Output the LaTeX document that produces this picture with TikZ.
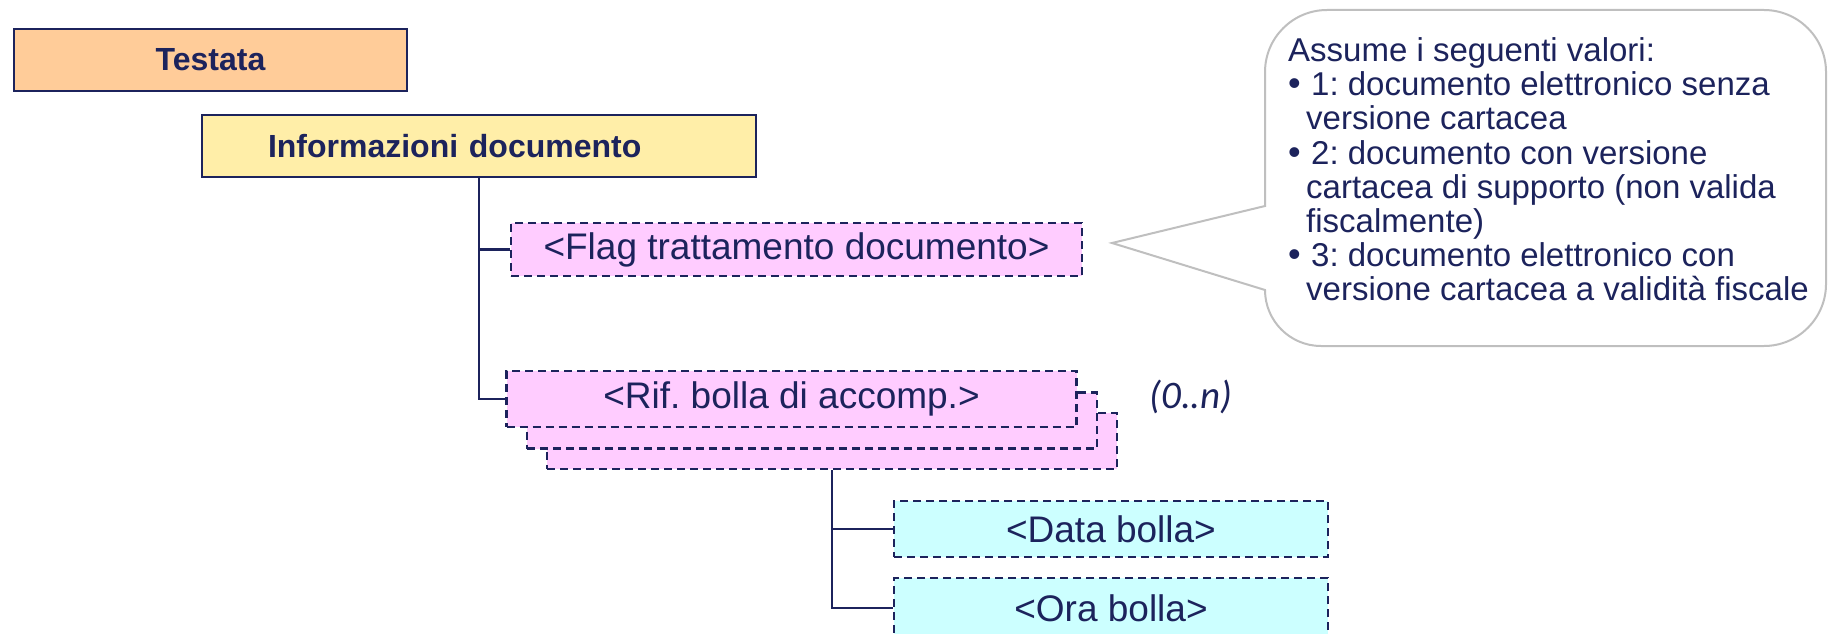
\documentclass[tikz,border=0pt]{standalone}
\usepackage{fontspec}
\setmainfont{Liberation Sans}
\newfontfamily\boxfont{Liberation Sans}
\newfontfamily\callfont{Liberation Sans}
\newfontfamily\multfont{Carlito}
\frenchspacing
\definecolor{navy}{RGB}{28,35,92}
\definecolor{orangeF}{RGB}{255,204,153}
\definecolor{yellowF}{RGB}{255,238,168}
\definecolor{pinkF}{RGB}{255,204,255}
\definecolor{cyanF}{RGB}{204,255,255}
\definecolor{callgray}{RGB}{191,191,191}
\begin{document}
\begin{tikzpicture}[x=1pt,y=-1pt,
  solidbox/.style={draw=navy, line width=2pt, inner sep=0pt, text=navy,
    font=\bfseries\fontsize{32}{38}\selectfont},
  dbox/.style={draw=navy, line width=2.2pt, dash pattern=on 8pt off 5pt, inner sep=0pt,
    text=navy, font=\boxfont\fontsize{37}{42}\selectfont},
  pinkbox/.style={dbox, fill=pinkF, minimum width=570pt, minimum height=56pt},
  cyanbox/.style={dbox, fill=cyanF, minimum width=434pt},
  conn/.style={draw=navy, line width=2.2pt},
  calltext/.style={text=navy, font=\callfont\fontsize{33}{36}\selectfont, inner sep=0pt, anchor=base west},
  bul/.style={text=navy, font=\fontsize{36}{40}\selectfont, inner sep=0pt, anchor=base west}
]
\useasboundingbox (0,0) rectangle (1830,634);

% title boxes
\node[solidbox, fill=orangeF, minimum width=393pt, minimum height=62pt] (testata) at (210.5,60) {Testata};
\node[solidbox, fill=yellowF, minimum width=554pt, minimum height=62pt,
      inner xsep=66pt, text width=422pt, align=left] (info) at (479,146) {Informazioni documento};

% flag
\node[dbox, fill=pinkF, minimum width=571pt, minimum height=53pt] (flag) at (796.5,249.5) {<Flag trattamento documento>};

% stacked rif boxes
\node[pinkbox] (rif3) at (832,441) {};
\node[pinkbox] (rif2) at (812,420.5) {};
\node[pinkbox] (rif1) at (791.5,399) {<Rif. bolla di accomp.>};

\node[text=navy, inner sep=0pt, font=\multfont\itshape\fontsize{39}{44}\selectfont] (mult) at (1191,397) {(0..n)};

% children
\node[cyanbox, minimum height=56pt] (data) at (1111,529) {<Data bolla>};
\node[cyanbox, minimum height=60pt] (ora) at (1111,608) {<Ora bolla>};

% connectors
\draw[conn] (info.south) |- (flag.west);
\draw[conn] (info.south) |- (rif1.west);
\draw[conn] (rif3.south) |- (data.west);
\draw[conn] (rif3.south) |- (ora.west);

% callout
\coordinate (tip) at (1112,243);
\draw[draw=callgray, line width=2pt, fill=white]
  (1265,206) -- (1265,72) .. controls (1265,37.8) and (1292.8,10) .. (1327,10)
  -- (1764,10) .. controls (1798.2,10) and (1826,37.8) .. (1826,72)
  -- (1826,284) .. controls (1826,318.2) and (1798.2,346) .. (1764,346)
  -- (1321,346) .. controls (1290.1,346) and (1265,320.9) .. (1265,290)
  -- (tip) -- cycle;

\node[calltext] (c1) at (1288,61) {Assume i seguenti valori:};
\node[bul] (b1) at (1288,95) {•};
\node[calltext] (c2) at (1311,95) {1: documento elettronico senza};
\node[calltext] (c3) at (1306,129) {versione cartacea};
\node[bul] (b2) at (1288,164) {•};
\node[calltext] (c4) at (1311,164) {2: documento con versione};
\node[calltext] (c5) at (1306,198) {cartacea di supporto (non valida};
\node[calltext] (c6) at (1306,232) {fiscalmente)};
\node[bul] (b3) at (1288,266) {•};
\node[calltext] (c7) at (1311,266) {3: documento elettronico con};
\node[calltext] (c8) at (1306,300) {versione cartacea a validità fiscale};
\end{tikzpicture}
\end{document}
